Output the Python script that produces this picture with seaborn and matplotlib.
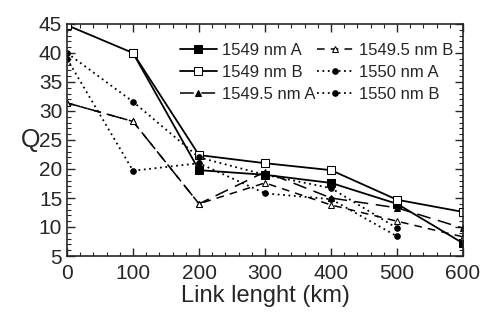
import seaborn as sns
import pandas as pd
import numpy as np
import matplotlib.pyplot as plt
from matplotlib.ticker import MultipleLocator

# data
link_km = [0, 100, 200, 300, 400, 500, 600]
q_1549_a = [np.nan, 40, 19.8, 19.0, 17.6, 14.0, 7.2]
q_1549_b = [44.8, 40, 22.4, 21.0, 19.8, 14.7, 12.6]
q_15495_a = [31.4, 28.2, 14.0, 19.5, 15.0, 13.3, 9.8]
q_15495_b = [31.4, 28.2, 14.0, 17.6, 13.8, 11.0, 8.3]
q_1550_a = [40.0, 31.6, 22.0, 19.0, 16.7, 9.8, np.nan]
q_1550_b = [39.0, 19.7, 21.0, 15.8, 14.8, 8.4, np.nan]

sns.set_style("ticks")
plt.rcParams['font.family'] = ['Liberation Sans', 'DejaVu Sans']

fig = plt.figure(figsize=(4.91, 3.2), dpi=100)
ax = fig.add_axes([0.1365, 0.2, 0.8065, 0.725])

series = [
    ("1549 nm A", q_1549_a, dict(linestyle='-', marker='s', markersize=5.5, mfc='black', lw=1.3)),
    ("1549 nm B", q_1549_b, dict(linestyle='-', marker='s', markersize=5.5, mfc='white', lw=1.3)),
    ("1549.5 nm A", q_15495_a, dict(linestyle=(0, (9, 5)), marker='^', markersize=4, mfc='black', lw=1.1)),
    ("1549.5 nm B", q_15495_b, dict(linestyle=(0, (5, 4)), marker='^', markersize=4, mfc='white', lw=1.1)),
    ("1550 nm A", q_1550_a, dict(linestyle=(0, (1, 2)), marker='o', markersize=4, mfc='black', lw=1.3)),
    ("1550 nm B", q_1550_b, dict(linestyle=(0, (1, 2)), marker='o', markersize=4, mfc='black', lw=1.3)),
]

for name, vals, kw in series:
    df = pd.DataFrame({'km': link_km, 'q': vals}).dropna()
    sns.lineplot(data=df, x='km', y='q', ax=ax, color='black', mec='black',
                 label=name, **kw)

ax.set_xlim(0, 600)
ax.set_ylim(5, 45)
ax.xaxis.set_major_locator(MultipleLocator(100))
ax.xaxis.set_minor_locator(MultipleLocator(20))
ax.yaxis.set_major_locator(MultipleLocator(5))
ax.yaxis.set_minor_locator(MultipleLocator(1))
ax.tick_params(which='both', direction='in', top=True, right=True, labelsize=15)
ax.tick_params(axis='x', pad=6)
ax.tick_params(which='major', length=6, width=1)
ax.tick_params(which='minor', length=3, width=0.8)
for s in ax.spines.values():
    s.set_linewidth(1.2)

ax.set_xlabel("Link lenght (km)", fontsize=17, labelpad=1)
ax.set_ylabel("Q", fontsize=18, labelpad=6, rotation=0, va='center')

ax.legend(ncol=2, loc='upper right', bbox_to_anchor=(1.0, 0.96), frameon=False,
          fontsize=12, handlelength=2.2, columnspacing=0.1, handletextpad=0.3,
          labelspacing=0.4, borderaxespad=0.2)

plt.savefig("out.png", dpi=100)
